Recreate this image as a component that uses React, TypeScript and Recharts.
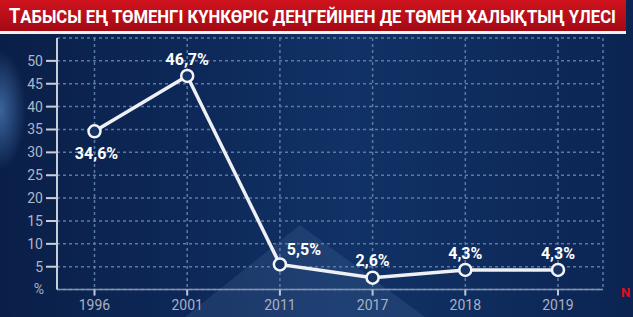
import React from 'react';
import { LineChart, Line, XAxis, YAxis, CartesianGrid, LabelList } from 'recharts';

const title = 'ТАБЫСЫ ЕҢ ТӨМЕНГІ КҮНКӨРІС ДЕҢГЕЙІНЕН ДЕ ТӨМЕН ХАЛЫҚТЫҢ ҮЛЕСІ';
const years = ['1996', '2001', '2011', '2017', '2018', '2019'];
const shares = [34.6, 46.7, 5.5, 2.6, 4.3, 4.3];
const yTicks = [0, 5, 10, 15, 20, 25, 30, 35, 40, 45, 50];

const data = years.map((year, i) => ({ year, share: shares[i] }));

const FONT = 'Roboto, "Noto Sans", sans-serif';

const YTick = (props: any) => {
  const { x, y, payload } = props;
  if (payload.value === 0) {
    return (
      <text x={x - 13} y={y} dy="0.3em" textAnchor="end" fill="#a9b2c4" fontSize={14} fontFamily={FONT}>
        %
      </text>
    );
  }
  return (
    <g>
      <line x1={x - 11} x2={x} y1={y} y2={y} stroke="#c9cfda" strokeWidth={2} />
      <text x={x - 14} y={y} dy="0.35em" textAnchor="end" fill="#aeb7c8" fontSize={14} fontFamily={FONT}>
        {payload.value}
      </text>
    </g>
  );
};

const PointLabel = (props: any) => {
  const { x, y, value, index } = props;
  const text = String(value).replace('.', ',') + '%';
  let dx = 0;
  let dy = -17;
  if (index === 0) {
    dy = 22;
    dx = 2;
  }
  if (index === 2) {
    dx = 24;
    dy = -15;
  }
  return (
    <text
      x={x + dx}
      y={y + dy}
      dy="0.35em"
      textAnchor="middle"
      fill="#ffffff"
      fontSize={16}
      fontWeight={700}
      fontFamily={FONT}
    >
      {text}
    </text>
  );
};

export default function App() {
  return (
    <div
      style={{
        position: 'absolute',
        left: 0,
        top: 0,
        width: 633,
        height: 317,
        overflow: 'hidden',
        background:
          'radial-gradient(ellipse 26px 60px at 0px 110px, rgba(110,170,240,0.5), rgba(110,170,240,0) 100%), ' +
          'linear-gradient(90deg, #0a1f48 0%, #0d2858 30%, #113266 55%, #0e2b5c 80%, #0b2452 100%)',
      }}
    >
      <svg width={633} height={317} style={{ position: 'absolute', left: 0, top: 0 }}>
        <defs>
          <linearGradient id="redbar" x1="0" y1="0" x2="0" y2="1">
            <stop offset="0%" stopColor="#d0131e" />
            <stop offset="100%" stopColor="#a30b15" />
          </linearGradient>
        </defs>
        <polygon points="185,317 300,225 425,317" fill="rgba(140,175,225,0.12)" />
        <rect x={0} y={0} width={626} height={31} fill="url(#redbar)" />
        <rect x={0} y={31} width={626} height={3} fill="#f2f2f2" />
        <g transform="scale(1,1.15)">
          <text
            x={9}
            y={19.6}
            fill="#ffffff"
            fontFamily={FONT}
            fontWeight={700}
            fontSize={16}
            textLength={607}
            lengthAdjust="spacingAndGlyphs"
          >
            <tspan fontSize={17.5}>{title.slice(0, 1)}</tspan>
            {title.slice(1)}
          </text>
        </g>
        <text x={621} y={297} fill="#e01020" fontFamily={FONT} fontWeight={700} fontSize={13}>
          N
        </text>
      </svg>
      <div style={{ position: 'absolute', left: 0, top: 0 }}>
        <LineChart
          width={633}
          height={317}
          data={data}
          margin={{ top: 38, right: 30, bottom: 0, left: 0 }}
          style={{ fontFamily: FONT }}
        >
          <CartesianGrid stroke="#5b79a8" strokeDasharray="3 3" strokeWidth={1.5} />
          <XAxis
            dataKey="year"
            padding={{ left: 37.5, right: 45 }}
            axisLine={{ stroke: '#8593aa', strokeWidth: 1.5 }}
            tickLine={{ stroke: '#c0c7d2', strokeWidth: 2 }}
            tickSize={6}
            tickMargin={4}
            tick={{ fill: '#a8b1c3', fontSize: 14, fontFamily: FONT }}
            height={27.4}
          />
          <YAxis
            domain={[0, 55]}
            ticks={yTicks}
            width={57}
            axisLine={{ stroke: '#c9cfda', strokeWidth: 2 }}
            tickLine={false}
            tickSize={0}
            tickMargin={0}
            tick={<YTick />}
            interval={0}
          />
          <Line
            type="linear"
            dataKey="share"
            stroke="#eef0f4"
            strokeWidth={3.5}
            isAnimationActive={false}
            dot={{ r: 6, stroke: '#f4f5f8', strokeWidth: 2.5, fill: '#163366' }}
            activeDot={false}
          >
            <LabelList dataKey="share" content={<PointLabel />} />
          </Line>
        </LineChart>
      </div>
    </div>
  );
}
